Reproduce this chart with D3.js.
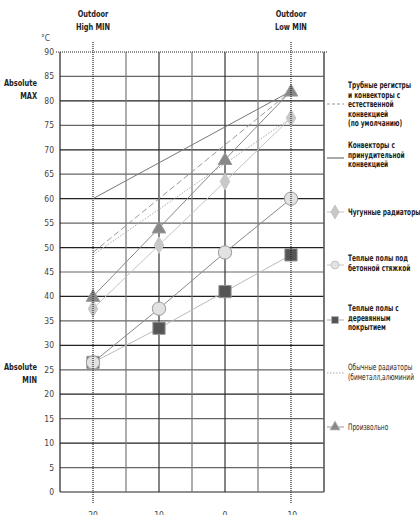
<!DOCTYPE html>
<html>
<head>
  <meta charset="utf-8">
  <title>Heating curves</title>
  <script src="https://d3js.org/d3.v7.min.js"></script>
  <style>
    body { margin: 0; background: #fff; }
    text { font-family: "DejaVu Sans Condensed", "DejaVu Sans", sans-serif; fill: #222; }
    .tick-label { font-size: 8.5px; fill: #444; }
    .head { font-size: 9px; font-weight: bold; }
    .legend { font-size: 8.8px; font-weight: bold; }
    .legend.light { font-weight: normal; }
  </style>
</head>
<body>
<script>
  // outdoor temperatures (x) and supply temperatures (y)
  const outdoorTemps = [20, 10, 0, -10];
  const castIron = [37.5, 50.5, 63.5, 76.5];
  const concreteFloor = [26.5, 37.5, 49, 60];
  const woodFloor = [26.5, 33.5, 41, 48.5];
  const custom = [40, 54, 68, 82];

  // straight curves only known at both ends
  const endTemps = [20, -10];
  const tubeRegisters = [49, 82];
  const forcedConvectors = [60, 82];
  const bimetal = [48.5, 76.5];

  const yTicks = d3.range(0, 91, 5);
  const xTickLabels = [20, 10, 0, -10];

  const W = 420, H = 515;
  const svg = d3.select('body').append('svg').attr('width', W).attr('height', H);

  const x = d3.scaleLinear().domain([25, -15]).range([60, 324]);
  const y = d3.scaleLinear().domain([0, 90]).range([492, 52]);

  // condensed text: squeeze horizontally like the original narrow font
  function label(px, py, str, cls, anchor, sx) {
    svg.append('g').attr('transform', `translate(${px},${py}) scale(${sx},1)`)
      .append('text').attr('class', cls).attr('text-anchor', anchor || 'start').text(str);
  }

  // grid
  const grid = svg.append('g');
  grid.selectAll('line.h').data(yTicks.filter(d => d < 90)).enter().append('line')
    .attr('x1', x(25)).attr('x2', x(-15))
    .attr('y1', d => y(d)).attr('y2', d => y(d))
    .attr('stroke', (d, i) => i % 2 ? '#666' : '#222').attr('stroke-width', 1.2);
  grid.selectAll('line.v').data(d3.range(25, -16, -5)).enter().append('line')
    .attr('x1', d => x(d)).attr('x2', d => x(d))
    .attr('y1', y(0)).attr('y2', y(90))
    .attr('stroke', d => (d === 20 || d === -10) ? 'none' : (d === 25 ? '#222' : (d % 10 === 0 ? '#333' : '#777')))
    .attr('stroke-width', 1.2);

  // top dotted line
  svg.append('line').attr('x1', 56).attr('x2', 327).attr('y1', y(90)).attr('y2', y(90))
    .attr('stroke', '#222').attr('stroke-dasharray', '1,1');

  // y tick labels
  svg.selectAll('text.yt').data(yTicks).enter().append('text')
    .attr('class', 'tick-label')
    .attr('x', 54).attr('y', d => y(d) + 3)
    .attr('text-anchor', 'end').text(d => d);

  svg.append('text').attr('class', 'tick-label').attr('x', 41).attr('y', 41).text('°C');

  // x tick labels
  svg.selectAll('text.xt').data(xTickLabels).enter().append('text')
    .attr('class', 'tick-label')
    .attr('x', d => x(d)).attr('y', 518)
    .attr('text-anchor', 'middle').text(d => d);

  // headings
  const heads = [
    { t: 20, lines: ['Outdoor', 'High MIN'] },
    { t: -10, lines: ['Outdoor', 'Low MIN'] }
  ];
  heads.forEach(h => {
    h.lines.forEach((s, i) => label(x(h.t), 17 + i * 13, s, 'head', 'middle', 0.82));
  });
  [['Absolute', 'MAX', 86], ['Absolute', 'MIN', 370]].forEach(a => {
    label(37, a[2], a[0], 'head', 'end', 0.82);
    label(37, a[2] + 13, a[1], 'head', 'end', 0.82);
  });

  const line = d3.line().x(d => x(d[0])).y(d => y(d[1]));
  const pts = (xs, ys) => xs.map((v, i) => [v, ys[i]]);

  // straight curves
  const plain = [
    { ys: forcedConvectors, color: '#777', dash: null },
    { ys: tubeRegisters, color: '#999', dash: '6,3' },
    { ys: bimetal, color: '#aaa', dash: '1.5,1.5' }
  ];
  plain.forEach(p => {
    svg.append('path').attr('d', line(pts(endTemps, p.ys)))
      .attr('fill', 'none').attr('stroke', p.color).attr('stroke-width', 1)
      .attr('stroke-dasharray', p.dash);
  });

  // marked curves
  const series = [
    { ys: woodFloor, color: '#bbb', shape: d3.symbolSquare, size: 150, fill: '#555', stroke: '#999' },
    { ys: concreteFloor, color: '#888', shape: d3.symbolCircle, size: 140, fill: '#e2e2e2', stroke: '#999' },
    { ys: castIron, color: '#c4c4c4', shape: d3.symbolDiamond, size: 80, fill: '#c8c8c8', stroke: '#c8c8c8' },
    { ys: custom, color: '#888', shape: d3.symbolTriangle, size: 80, fill: '#888', stroke: '#999' }
  ];
  series.forEach(s => {
    svg.append('path').attr('d', line(pts(outdoorTemps, s.ys)))
      .attr('fill', 'none').attr('stroke', s.color).attr('stroke-width', 1);
  });
  series.forEach(s => {
    svg.selectAll(null).data(pts(outdoorTemps, s.ys)).enter().append('path')
      .attr('d', d3.symbol().type(s.shape).size(s.size))
      .attr('transform', d => `translate(${x(d[0])},${y(d[1]) + (s.shape === d3.symbolTriangle ? 1 : 0)})`)
      .attr('fill', s.fill).attr('stroke', s.stroke).attr('stroke-width', 1);
  });

  // dotted reference verticals on top
  [20, -10].forEach(t => {
    svg.append('line').attr('x1', x(t)).attr('x2', x(t)).attr('y1', 42).attr('y2', 503)
      .attr('stroke', '#222').attr('stroke-dasharray', '1,1').attr('stroke-width', 1.2);
  });
  // right border
  svg.append('line').attr('x1', x(-15)).attr('x2', x(-15)).attr('y1', y(0)).attr('y2', y(90))
    .attr('stroke', '#555').attr('stroke-width', 1.2);

  // legend
  const legend = [
    { y: 104, lines: ['Трубные регистры', 'и конвекторы с', 'естественной', 'конвекцией', '(по умолчанию)'], top: 88, color: '#999', dash: '3,2' },
    { y: 158, lines: ['Конвекторы с', 'принудительной', 'конвекцией'], top: 148, color: '#555', dash: null },
    { y: 212, lines: ['Чугунные радиаторы'], top: 215, color: '#c4c4c4', dash: null, shape: d3.symbolDiamond, fill: '#c8c8c8', size: 55 },
    { y: 265, lines: ['Теплые полы под', 'бетонной стяжкой'], top: 261, color: '#c4c4c4', dash: null, shape: d3.symbolCircle, fill: '#e2e2e2', size: 50 },
    { y: 320, lines: ['Теплые полы с', 'деревянным', 'покрытием'], top: 311, color: '#aaa', dash: null, shape: d3.symbolSquare, fill: '#555', size: 50 },
    { y: 373, lines: ['Обычные радиаторы', '(биметалл,алюминий'], top: 370, color: '#aaa', dash: '1.5,1.5', light: true },
    { y: 427, lines: ['Произвольно'], top: 430, color: '#999', dash: null, shape: d3.symbolTriangle, fill: '#888', size: 45, light: true }
  ];
  legend.forEach(l => {
    svg.append('line').attr('x1', 327).attr('x2', 344).attr('y1', l.y).attr('y2', l.y)
      .attr('stroke', l.color).attr('stroke-dasharray', l.dash);
    if (l.shape) {
      svg.append('path').attr('d', d3.symbol().type(l.shape).size(l.size))
        .attr('transform', `translate(335,${l.y})`)
        .attr('fill', l.fill).attr('stroke', '#bbb').attr('stroke-width', 0.8);
    }
    l.lines.forEach((s, i) => {
      label(348, l.top + i * 9.6, s, 'legend' + (l.light ? ' light' : ''), 'start', 0.74);
    });
  });
</script>
</body>
</html>
